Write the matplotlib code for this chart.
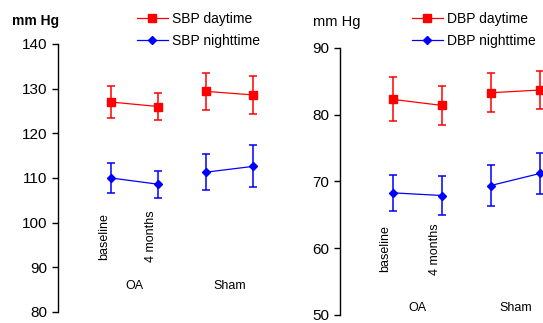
import matplotlib
matplotlib.use("Agg")
import matplotlib.pyplot as plt
from matplotlib.lines import Line2D

plt.rcParams['font.family'] = ['Liberation Sans', 'DejaVu Sans']

time_labels = ["baseline", "4 months"]
groups = ["OA", "Sham"]

sbp_day = [127.0, 126.0, 129.4, 128.6]
sbp_day_err = [3.5, 3.1, 4.2, 4.3]
sbp_night = [110.0, 108.6, 111.3, 112.6]
sbp_night_err = [3.3, 3.0, 4.0, 4.7]

dbp_day = [82.3, 81.4, 83.3, 83.7]
dbp_day_err = [3.3, 2.9, 2.9, 2.8]
dbp_night = [68.3, 67.9, 69.4, 71.2]
dbp_night_err = [2.7, 2.9, 3.0, 3.1]

W, H = 543, 323
fig = plt.figure(figsize=(W / 100, H / 100), dpi=100)

RED = "#FF0000"
BLUE = "#0000FF"


def px_axes(x0, x1, ytop, ybot):
    return fig.add_axes([x0 / W, (H - ybot) / H, (x1 - x0) / W, (ybot - ytop) / H])


def draw_panel(ax, day, day_err, night, night_err, ylim, yticks,
               rot_y, grp_y, xlim):
    xs = [0, 1, 2, 3]
    for g in range(2):
        idx = [2 * g, 2 * g + 1]
        gx = [xs[i] for i in idx]
        for vals, errs, col, mk, ms in ((day, day_err, RED, 's', 5.4),
                                        (night, night_err, BLUE, 'D', 4.4)):
            ax.errorbar(gx, [vals[i] for i in idx], yerr=[errs[i] for i in idx],
                        color=col, ecolor=col, elinewidth=1.1, capsize=3,
                        capthick=1.1, lw=0.9, marker=mk, ms=ms, zorder=3,
                        clip_on=False)
    # time labels only under the first group, as in the reference
    for i in range(2):
        ax.text(xs[i] - 0.15, rot_y, time_labels[i], rotation=90,
                ha='center', va='center', fontsize=9)
    for g in range(2):
        ax.text((xs[2 * g] + xs[2 * g + 1]) / 2, grp_y, groups[g],
                ha='center', va='center', fontsize=9)
    ax.set_xlim(*xlim)
    ax.set_ylim(*ylim)
    ax.set_yticks(yticks)
    ax.set_xticks([])
    for s in ("top", "right", "bottom"):
        ax.spines[s].set_visible(False)
    ax.spines['left'].set_linewidth(1.0)
    ax.tick_params(axis='y', length=4, width=1.0, pad=4, labelsize=11)
    handles = [Line2D([], [], color=RED, marker='s', ms=5.4, lw=0.9),
               Line2D([], [], color=BLUE, marker='D', ms=4.4, lw=0.9)]
    return handles


legend_kw = dict(loc='upper left', frameon=False, fontsize=10,
                 borderpad=0, borderaxespad=0, handlelength=2.2,
                 handletextpad=0.3, labelspacing=0.55)

ax1 = px_axes(58, 290, 44, 312)
h1 = draw_panel(ax1, sbp_day, sbp_day_err, sbp_night, sbp_night_err,
                (80, 140), [80, 90, 100, 110, 120, 130, 140], 96.9, 85.8,
                (-1.12, 3.78))
fig.legend(h1, ["SBP daytime", "SBP nighttime"],
           bbox_to_anchor=(137 / W, (H - 12) / H), **legend_kw)
fig.text(12 / W, (H - 21) / H, "mm Hg", fontsize=10, fontweight='bold',
         ha='left', va='center')

ax2 = px_axes(340, 579, 48, 315)
h2 = draw_panel(ax2, dbp_day, dbp_day_err, dbp_night, dbp_night_err,
                (50, 90), [50, 60, 70, 80, 90], 59.9, 51.0, (-1.08, 3.8))
fig.legend(h2, ["DBP daytime", "DBP nighttime"],
           bbox_to_anchor=(412 / W, (H - 12) / H), **legend_kw)
fig.text(313 / W, (H - 22) / H, "mm Hg", fontsize=10.5,
         ha='left', va='center')

fig.savefig("out.png", dpi=100)
